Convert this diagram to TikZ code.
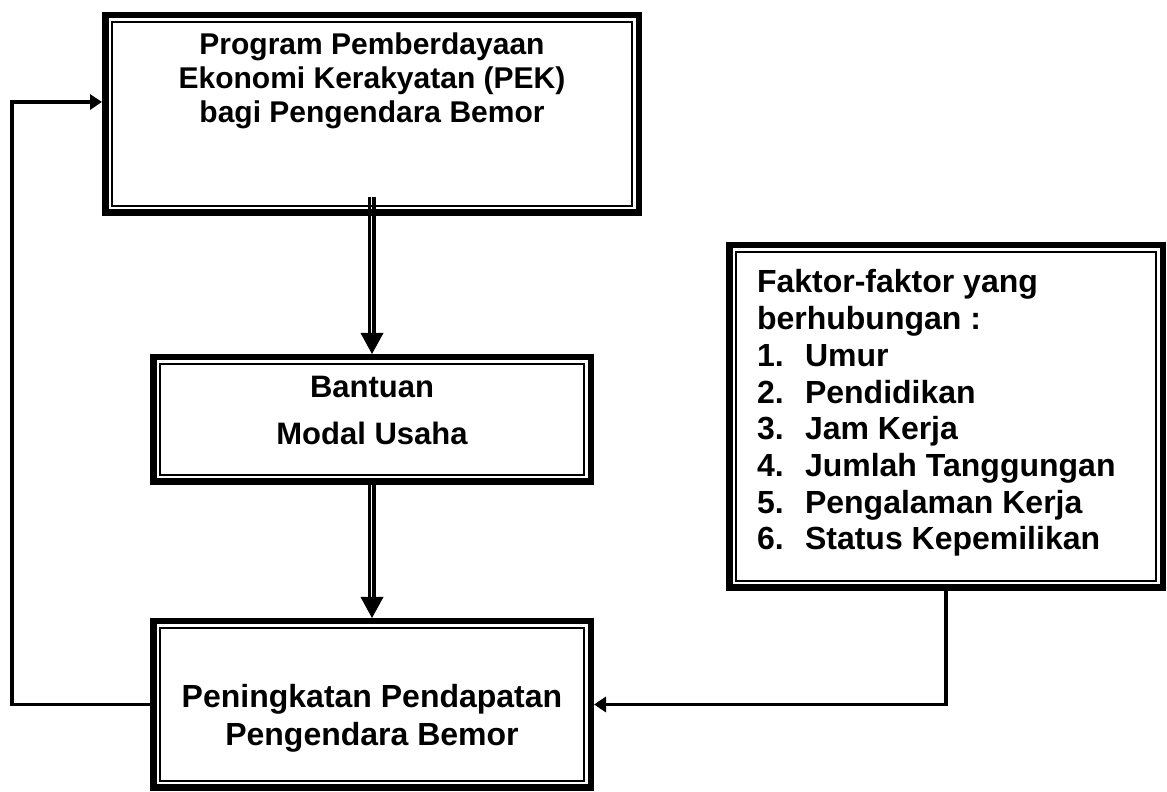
\documentclass[tikz,border=0pt]{standalone}
\usepackage{fontspec}
\setmainfont{Liberation Sans}
\usetikzlibrary{arrows.meta,calc}
\begin{document}
\begin{tikzpicture}[x=1pt,y=1pt,
  box/.style={draw, rectangle, line width=6.5pt, outer sep=3.25pt, inner sep=0pt},
  inner/.style={line width=2pt},
  txt/.style={inner sep=0pt, outer sep=0pt, anchor=base},
  conn/.style={line width=3.7pt},
  dthin/.style={line width=2.3pt},
  dthick/.style={line width=3.7pt},
  headsmall/.style={-{Triangle[length=12pt,width=15pt]}}
]
\useasboundingbox (0,0) rectangle (1167,792);

% boxes
\node[box, minimum width=533.5pt, minimum height=197.5pt] (b1) at (372,678) {};
\node[box, minimum width=437.5pt, minimum height=124.5pt] (b2) at (372,372.5) {};
\node[box, minimum width=437.5pt, minimum height=166.5pt] (b3) at (372,87.5) {};
\node[box, minimum width=433.5pt, minimum height=342.5pt] (b4) at (946,375.5) {};
\foreach \n in {b1,b2,b3,b4}{
  \draw[inner] ([shift={(9.8pt,-9.8pt)}]\n.north west) rectangle ([shift={(-9.8pt,9.8pt)}]\n.south east);
}

% texts
\node[txt] (t1) at (372,737) {\parbox[t]{520pt}{\centering\fontsize{30}{34}\selectfont\bfseries
  Program Pemberdayaan\\Ekonomi Kerakyatan (PEK)\\bagi Pengendara Bemor}};
\node[txt] (t2) at (372,394) {\parbox[t]{420pt}{\centering\fontsize{31}{47}\selectfont\bfseries
  Bantuan\\Modal Usaha}};
\node[txt] (t3) at (372,84) {\parbox[t]{430pt}{\centering\fontsize{32}{37.5}\selectfont\bfseries
  Peningkatan Pendapatan\\Pengendara Bemor}};
\node[txt, anchor=base west] (t4) at (757,499) {\parbox[t]{405pt}{\raggedright\fontsize{32}{36.7}\selectfont\bfseries
  Faktor-faktor yang\\berhubungan :\\
  \makebox[48pt][l]{1.}Umur\\
  \makebox[48pt][l]{2.}Pendidikan\\
  \makebox[48pt][l]{3.}Jam Kerja\\
  \makebox[48pt][l]{4.}Jumlah Tanggungan\\
  \makebox[48pt][l]{5.}Pengalaman Kerja\\
  \makebox[48pt][l]{6.}Status Kepemilikan}};

% double connectors with heads
\draw[dthin]  ($(b1.south)+(-2.5,19)$) -- ($(b2.north)+(-2.5,20)$);
\draw[dthick] ($(b1.south)+(2.3,19)$)  -- ($(b2.north)+(2.3,20)$);
\fill (b2.north) -- ++(-11.5,21) -- ++(23,0) -- cycle;

\draw[dthin]  ($(b2.south)+(-2.5,0)$) -- ($(b3.north)+(-2.5,20)$);
\draw[dthick] ($(b2.south)+(2.3,0)$)  -- ($(b3.north)+(2.3,20)$);
\fill (b3.north) -- ++(-11.5,21) -- ++(23,0) -- cycle;

% feedback connectors
\coordinate (lx) at (12,0);
\draw[conn, headsmall] (b3.west) -- (b3.west -| lx) |- ($(b1.west)+(0,12)$);
\draw[conn, headsmall] (b4.south) |- (b3.east);
\end{tikzpicture}
\end{document}
